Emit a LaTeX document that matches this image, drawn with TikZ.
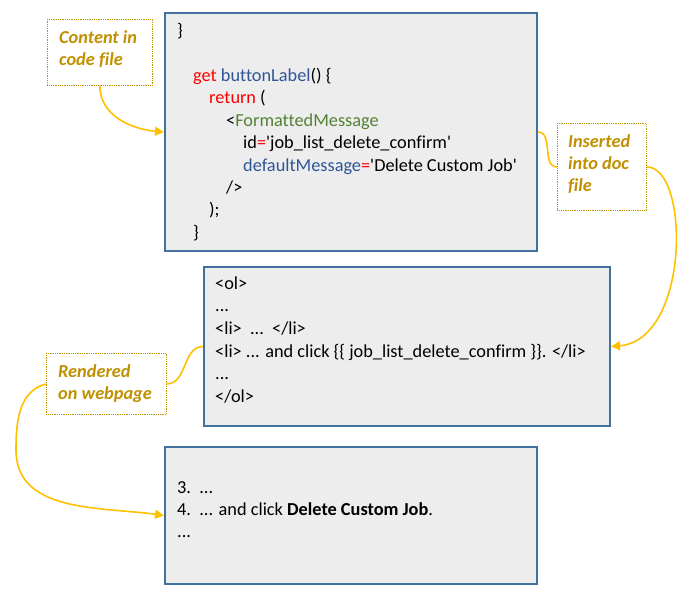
\documentclass[tikz,border=0pt]{standalone}
\usepackage{fontspec}
\setmainfont{Carlito}[Ligatures=NoCommon]
\usepackage{tikz}
\usetikzlibrary{arrows.meta}
\definecolor{boxblue}{HTML}{41719C}
\definecolor{boxfill}{HTML}{EDEDED}
\definecolor{notegold}{HTML}{BF9000}
\definecolor{flowgold}{HTML}{FFC000}
\definecolor{kwred}{HTML}{FF0000}
\definecolor{idblue}{HTML}{2F5597}
\definecolor{taggreen}{HTML}{548235}

\begin{document}
\begin{tikzpicture}[x=1pt, y=1pt,
  panel/.style={draw=boxblue, line width=2pt, fill=boxfill, anchor=north west, inner sep=0pt},
  note/.style={draw=notegold, densely dotted, line width=0.8pt, anchor=north west, inner sep=0pt},
  txt/.style={anchor=base west, inner sep=0pt, yshift=-1.5pt, font=\fontsize{18.3}{22}\selectfont},
  notetxt/.style={txt, text=notegold, font=\fontsize{18.3}{22}\selectfont\bfseries\itshape},
  flow/.style={draw=flowgold, line width=1.6pt},
  tip/.style={-{Triangle[length=9pt,width=9pt]}}]
\useasboundingbox (0,0) rectangle (694,-596);

% boxes
\node[panel, minimum width=372, minimum height=238] (code) at (164,-12) {};
\node[panel, minimum width=406, minimum height=159] (middle) at (203,-266) {};
\node[panel, minimum width=372, minimum height=137] (bottom) at (164,-446) {};
\node[note, minimum width=105, minimum height=66] (content) at (47,-19) {};
\node[note, minimum width=89, minimum height=87] (inserted) at (557,-123) {};
\node[note, minimum width=120, minimum height=61] (rendered) at (46,-353) {};

% notes
\node[notetxt] (content1) at (59,-42) {Content in};
\node[notetxt] (content2) at (59,-64) {code file};
\node[notetxt] (inserted1) at (568,-146) {Inserted};
\node[notetxt] (inserted2) at (568,-168) {into doc};
\node[notetxt] (inserted3) at (568,-190) {file};
\node[notetxt] (rendered1) at (58,-376) {Rendered};
\node[notetxt] (rendered2) at (58,-398) {on webpage};

% code file
\node[txt] (c1) at (177,-35) {\}};
\node[txt] (c2) at (193,-80) {\textcolor{kwred}{get} \textcolor{idblue}{buttonLabel}() \{};
\node[txt] (c3) at (209,-102.5) {\textcolor{kwred}{return} (};
\node[txt] (c4) at (226,-125) {<\textcolor{taggreen}{FormattedMessage}};
\node[txt] (c5) at (243,-147.5) {id\textcolor{kwred}{=}\textquotesingle job\_list\_delete\_confirm\textquotesingle};
\node[txt] (c6) at (243,-170) {\textcolor{idblue}{defaultMessage}\textcolor{kwred}{=}\textquotesingle Delete Custom Job\textquotesingle};
\node[txt] (c7) at (226,-192) {/>};
\node[txt] (c8) at (209,-214.5) {);};
\node[txt] (c9) at (193,-237) {\}};

% doc file
\node[txt] (m1) at (215,-288) {<ol>};
\node[txt] (m2) at (215,-310.5) {...};
\node[txt] (m3) at (215,-333) {<li>\ \ ...\ \ </li>};
\node[txt] (m4) at (215,-355.5) {<li> ... and click \{\{ job\_list\_delete\_confirm \}\}. </li>};
\node[txt] (m5) at (215,-378) {...};
\node[txt] (m6) at (215,-400.5) {</ol>};

% webpage
\node[txt] (b1) at (177,-492) {3.\ \ ...};
\node[txt] (b2) at (177,-514) {4.\ \ ... and click \textbf{Delete Custom Job}.};
\node[txt] (b3) at (177,-536) {...};

% connectors
\coordinate (bend) at (16,-450);
\draw[flow, tip] (content.south) to[out=-90, in=175] (code.west);
\draw[flow] (code.east) to[out=0, in=180] (inserted.west);
\draw[flow, tip] (inserted.east) .. controls (690,-167) and (690,-340) .. (middle.east);
\draw[flow] (middle.west) to[out=180, in=0] (rendered.east);
\draw[flow, tip] (rendered.west) to[out=195, in=90] (bend) to[out=-90, in=172] (bottom.west);
\end{tikzpicture}
\end{document}
